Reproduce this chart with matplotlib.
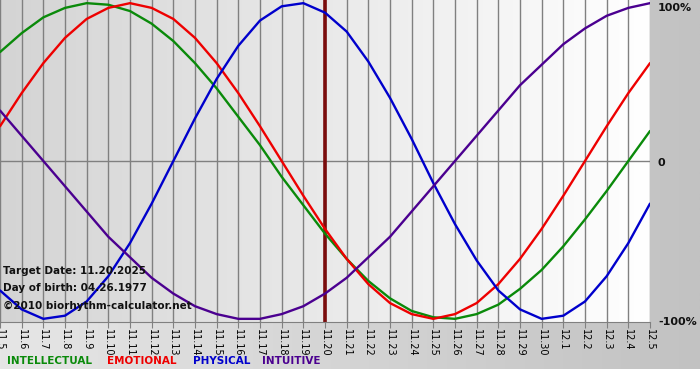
import numpy as np
import matplotlib.pyplot as plt
from matplotlib.colors import LinearSegmentedColormap

# day labels, 11.5 .. 12.5
days = [f"11.{d}" for d in range(5, 31)] + [f"12.{d}" for d in range(1, 6)]
target_day = "11.20"

physical = [-82, -94, -100, -98, -89, -73, -52, -27, 0, 27, 52, 73, 89, 98, 100, 94,
            82, 63, 40, 14, -14, -40, -63, -82, -94, -100, -98, -89, -73, -52, -27]
emotional = [22, 43, 62, 78, 90, 97, 100, 97, 90, 78, 62, 43, 22, 0, -22, -43,
             -62, -78, -90, -97, -100, -97, -90, -78, -62, -43, -22, 0, 22, 43, 62]
intellectual = [69, 81, 91, 97, 100, 99, 95, 87, 76, 62, 46, 28, 10, -10, -28, -46,
                -62, -76, -87, -95, -99, -100, -97, -91, -81, -69, -54, -37, -19, 0, 19]
intuitive = [32, 16, 0, -16, -32, -48, -61, -74, -84, -92, -97, -100, -100, -97, -92, -84,
             -74, -61, -48, -32, -16, 0, 16, 32, 48, 61, 74, 84, 92, 97, 100]

series = [
    ("INTELLECTUAL", intellectual, "#0a8a0a"),
    ("EMOTIONAL", emotional, "#ee0000"),
    ("PHYSICAL", physical, "#0000cc"),
    ("INTUITIVE", intuitive, "#4b0090"),
]

W, H = 700, 380
fig = plt.figure(figsize=(7, 3.8), dpi=100)

# figure background: light-to-gray gradient, white strip at the bottom
bg = fig.add_axes([0, 11 / H, 1, 1 - 11 / H], zorder=-10)
bg_cmap = LinearSegmentedColormap.from_list("bg", ["#e6e6e6", "#c2c2c2"])
bg.imshow(np.linspace(0, 1, 256)[None, :], cmap=bg_cmap, aspect="auto", extent=(0, 1, 0, 1))
bg.set_axis_off()

ax = fig.add_axes([0, (H - 322) / H, 650 / W, 322 / H])
x = np.arange(len(days))
plot_cmap = LinearSegmentedColormap.from_list("plot", ["#d4d4d4", "#ffffff"])
ax.imshow(np.linspace(0, 1, 256)[None, :], cmap=plot_cmap, aspect="auto",
          extent=(0, len(days) - 1, -102, 102), zorder=0)

for xi in x:
    ax.axvline(xi, color="#808080", lw=1, zorder=1)
ax.axhline(0, color="#808080", lw=1, zorder=1)
ax.axvline(days.index(target_day), color="#7a0c0c", lw=2.6, zorder=2)

for name, vals, col in series:
    ax.plot(x, vals, color=col, lw=1.7, zorder=3, solid_capstyle="round")

ax.set_xlim(0, len(days) - 1)
ax.set_ylim(-102, 102)
ax.set_xticks(x)
ax.set_xticklabels(days, rotation=-90, fontsize=7, va="top", ha="center")
ax.tick_params(axis="x", length=4, color="#808080", pad=1)
ax.set_yticks([])
for s in ["top", "right", "left"]:
    ax.spines[s].set_visible(False)
ax.spines["bottom"].set_color("#808080")

# percentage labels on the right
ypix = {100: 8, 0: 163, -100: 322}
for val, lab in [(100, "100%"), (0, "0"), (-100, "-100%")]:
    fig.text(658 / W, 1 - ypix[val] / H, lab, fontsize=8, fontweight="bold",
             ha="left", va="center", color="#111111")

# info text
info = [("Target Date: 11.20.2025", 271), ("Day of birth: 04.26.1977", 288),
        ("\u00a92010 biorhythm-calculator.net", 306)]
for txt, yp in info:
    fig.text(3 / W, 1 - yp / H, txt, fontsize=7.5, fontweight="bold",
             ha="left", va="center", color="#111111", zorder=10)

# legend
xpos = [7, 107, 193, 262]
for (name, vals, col), xp in zip(series, xpos):
    fig.text(xp / W, 1 - 361 / H, name, fontsize=7.5, fontweight="bold",
             ha="left", va="center", color=col)

fig.savefig("out.png", dpi=100)
